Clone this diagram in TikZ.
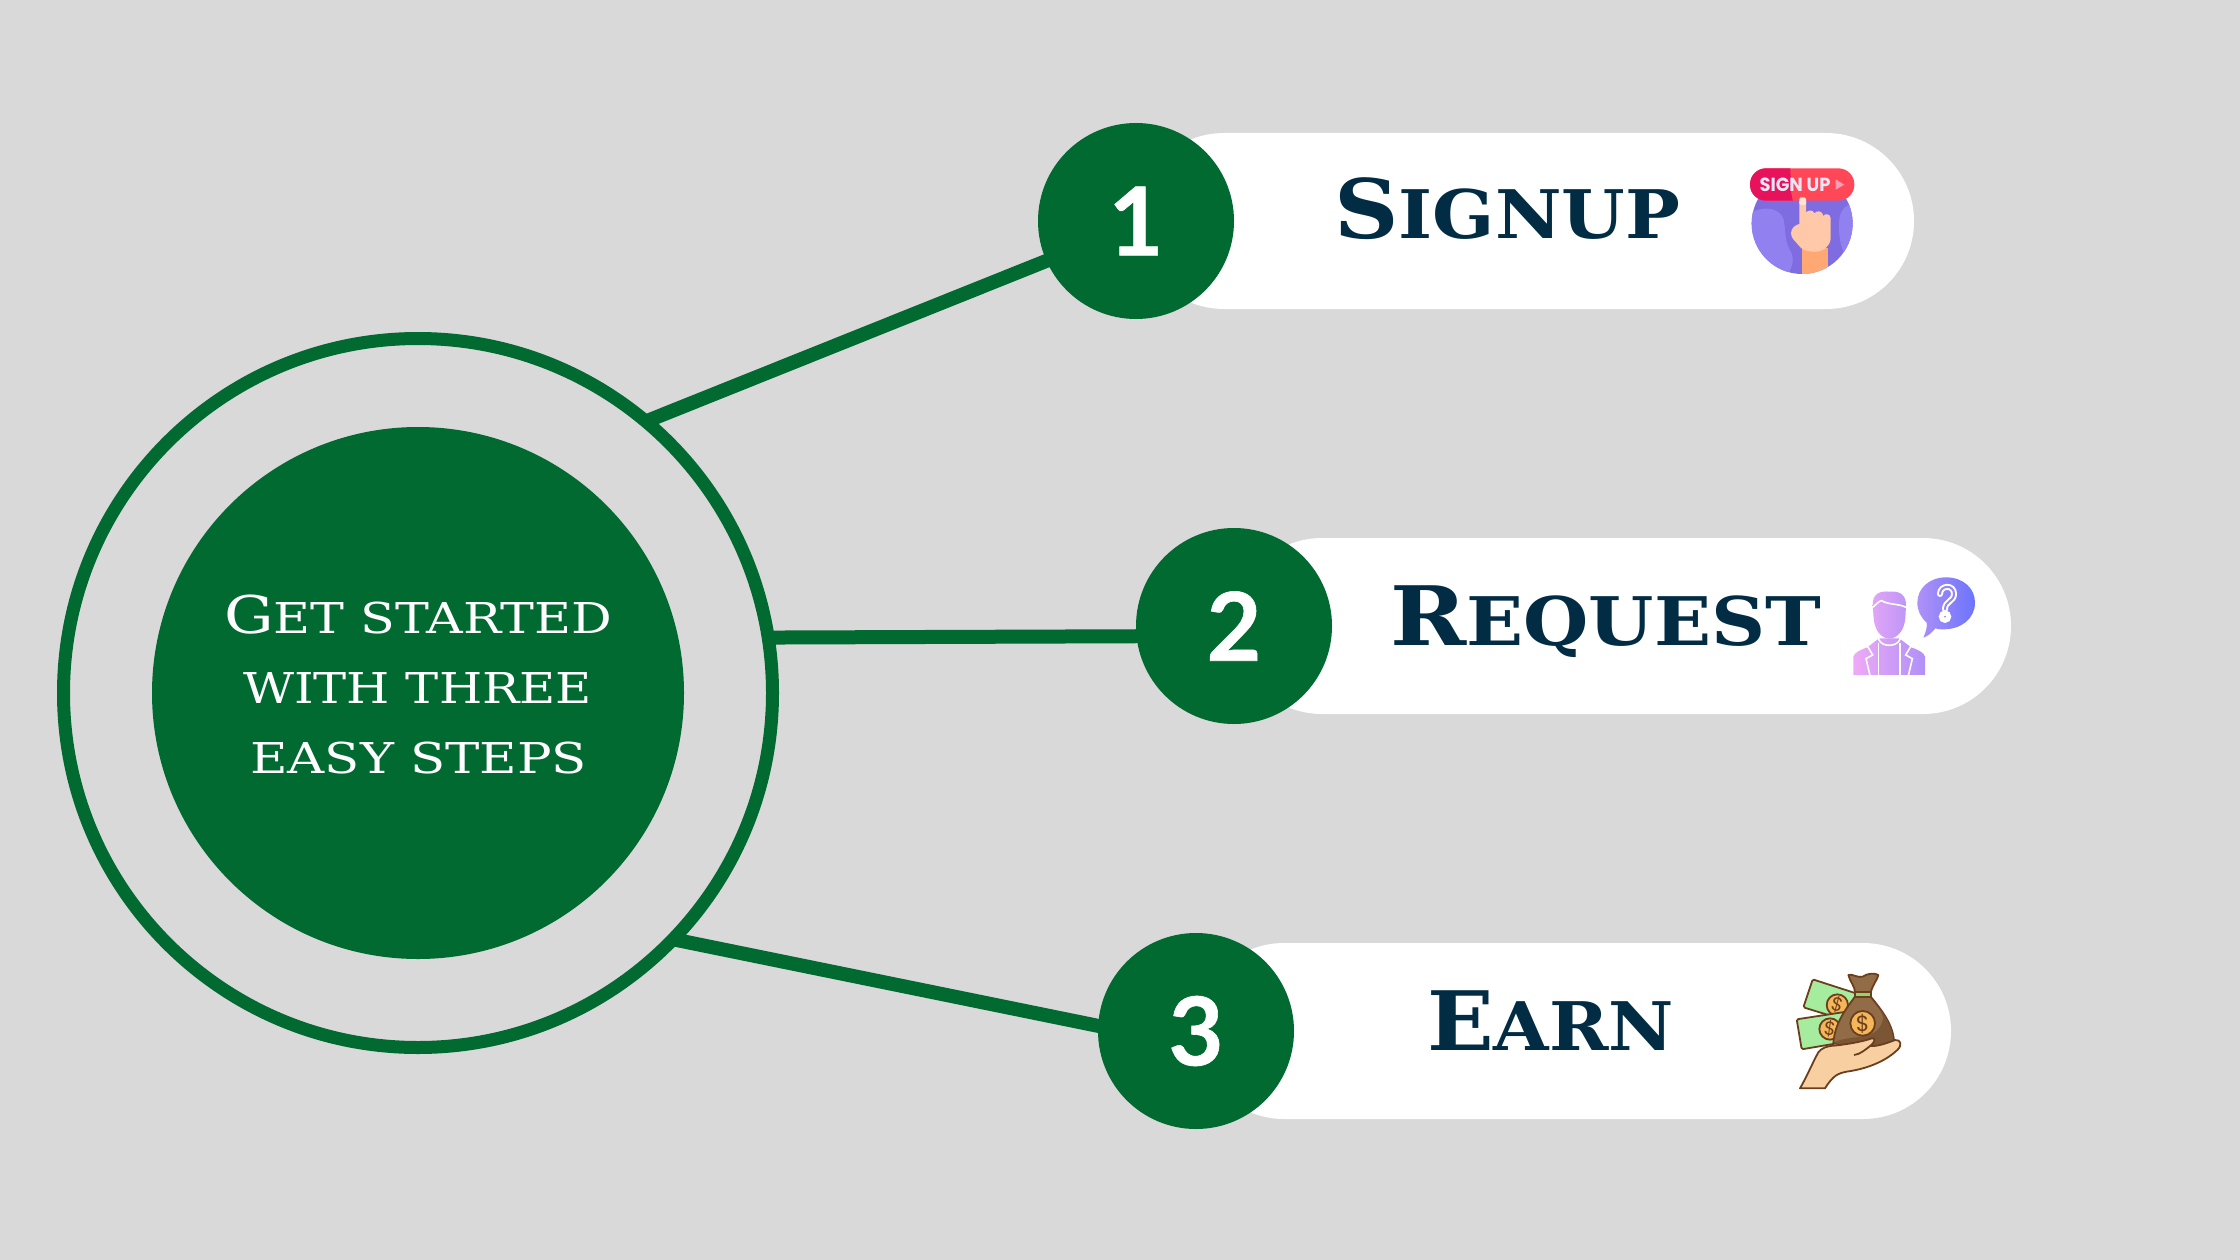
\documentclass[tikz,border=0pt]{standalone}
\usepackage{fontspec}
\usepackage{graphicx}
\setmainfont{DejaVu Serif}
\newfontfamily\digitfont[BoldFeatures={FakeBold=0.6}]{Lato}
\newfontfamily\iconfont{Poppins}
\definecolor{bgc}{HTML}{D9D9D9}
\definecolor{grn}{HTML}{006A31}
\definecolor{navy}{HTML}{022C43}
\definecolor{outl}{HTML}{6B3E1E}
\newcommand{\labeltxt}[3]{\resizebox{#1pt}{\height}{\bfseries\fontsize{82}{82}\selectfont #2\fontsize{67}{67}\selectfont #3}}
\newcommand{\midtxt}[3]{\resizebox{#1pt}{\height}{\fontsize{52}{52}\selectfont #2\fontsize{42.5}{42.5}\selectfont #3}}
\newcommand{\numtxt}[1]{\raisebox{-2pt}{#1}}
\tikzset{
  ringnode/.style={circle,draw=grn,line width=13pt,minimum size=709pt,inner sep=0pt,outer sep=0pt},
  discnode/.style={circle,fill=grn,minimum size=532pt,inner sep=0pt,outer sep=0pt},
  numnode/.style={circle,fill=grn,minimum size=196pt,inner sep=0pt,outer sep=0pt,text=white,font=\digitfont\bfseries\fontsize{95}{95}\selectfont},
  link/.style={draw=grn,line width=14pt,shorten >=-6pt,shorten <=-3pt},
  pill/.style={fill=white,rounded corners=88pt},
  lab/.style={anchor=base west,inner sep=0pt,text=navy},
  midlab/.style={anchor=base west,inner sep=0pt,text=white},
  ol/.style={draw=outl,line width=1.8pt,line join=round},
  dollar/.style={inner sep=0pt,text=outl,font=\iconfont\fontsize{19}{19}\selectfont},
  coin/.style={fill={rgb,255:red,245;green,182;blue,90},draw=outl,line width=1.8pt}
}
\begin{document}
\begin{tikzpicture}[x=1pt,y=-1pt]
\useasboundingbox (0,0) rectangle (2240,1260);
\fill[bgc] (0,0) rectangle (2240,1260);
% pills
\path[pill] (1136,133) rectangle (1914,309);
\path[pill] (1234,538) rectangle (2011,714);
\path[pill] (1196,943) rectangle (1951,1119);
% main nodes
\node[ringnode] (ring) at (418,693) {};
\node[discnode] (disc) at (418,693) {};
\node[numnode] (c1) at (1136,221) {\numtxt{1}};
\node[numnode] (c2) at (1234,626) {\numtxt{2}};
\node[numnode] (c3) at (1196,1031) {\numtxt{3}};
\draw[link] (ring.50.6) -- (c1.204.5);
\draw[link] (ring.9.09) -- (c2.186.45);
\draw[link] (ring.-44) -- (c3.177.5);
% labels
\node[lab] (l1) at (1334,238) {\labeltxt{346}{S}{IGNUP}};
\node[lab] (l2) at (1390,645) {\labeltxt{431}{R}{EQUEST}};
\node[lab] (l3) at (1427,1050) {\labeltxt{247}{E}{ARN}};
\node[midlab] (m1) at (224,633) {\midtxt{388}{G}{ET STARTED}};
\node[midlab] (m2) at (243,703) {\midtxt{349}{}{WITH THREE}};
\node[midlab] (m3) at (250,773) {\midtxt{337}{}{EASY STEPS}};
% ---- icon 1
\begin{scope}[shift={(1720,150)},x=.3333pt,y=-.3333pt]
  \fill[fill={rgb,255:red,127;green,108;blue,224}] (246.5,220.5) circle (151.5);
  \begin{scope}
    \clip (246.5,220.5) circle (151.5);
    \fill[fill={rgb,255:red,145;green,128;blue,240}] (90,190) .. controls (120,172) and (170,165) .. (190,205) .. controls (200,250) and (190,270) .. (215,310) .. controls (225,340) and (210,360) .. (200,380) -- (90,380) -- cycle;
    \fill[fill={rgb,255:red,145;green,128;blue,240}] (400,160) .. controls (365,170) and (355,190) .. (357,240) .. controls (358,270) and (365,295) .. (375,315) -- (400,315) -- cycle;
    \fill[fill={rgb,255:red,255;green,168;blue,115}] (245,295) -- (323,295) -- (323,380) -- (245,380) -- cycle;
  \end{scope}
  \fill[fill={rgb,255:red,255;green,200;blue,168}] (238,150) -- (258,150) -- (258,188) .. controls (262,180) and (280,178) .. (283,190) .. controls (290,180) and (308,182) .. (310,198) .. controls (315,188) and (332,192) .. (332,205) -- (332,265) .. controls (330,290) and (310,305) .. (285,305) .. controls (260,305) and (245,300) .. (235,285) .. controls (225,272) and (213,265) .. (213,250) .. controls (213,235) and (225,225) .. (238,222) -- cycle;
  \fill[fill={rgb,255:red,255;green,71;blue,87},rounded corners=16pt] (90,55) rectangle (403,152);
  \begin{scope}
    \clip[rounded corners=16pt] (90,55) rectangle (403,152);
    \fill[fill={rgb,255:red,232;green,18;blue,92}] (80,45) -- (213,45) .. controls (205,70) and (222,100) .. (213,125) -- (220,160) -- (80,160) -- cycle;
  \end{scope}
  \fill[fill={rgb,255:red,255;green,228;blue,210},rounded corners=1.5pt] (238,142) rectangle (258,165);
  \node[inner sep=0pt,text={rgb,255:red,235;green,230;blue,245},font=\iconfont\bfseries\fontsize{19}{19}\selectfont] (su) at (225,103) {\resizebox{71pt}{\height}{SIGN UP}};
  \fill[fill={rgb,255:red,255;green,155;blue,175}] (347,88) -- (373,104) -- (347,119) -- cycle;
\end{scope}
% ---- icon 2
\begin{scope}[shift={(1830,560)},x=.3333pt,y=-.3333pt]
  \path[left color={rgb,255:red,238;green,170;blue,246},right color={rgb,255:red,176;green,144;blue,248}] (70,345) -- (70,290) .. controls (72,278) and (95,268) .. (112,262) -- (147,235) -- (208,235) -- (243,262) .. controls (262,268) and (283,278) .. (285,290) -- (285,345) -- cycle;
  \path[left color={rgb,255:red,225;green,165;blue,246},right color={rgb,255:red,190;green,150;blue,248}] (128,135) .. controls (128,100) and (150,92) .. (180,95) .. controls (215,92) and (228,110) .. (228,135) -- (226,175) .. controls (222,215) and (200,235) .. (178,236) .. controls (155,235) and (135,215) .. (131,175) -- cycle;
  \draw[white,line width=1.6pt] (128,142) .. controls (140,132) and (148,122) .. (155,122) .. controls (175,135) and (205,130) .. (228,142);
  \draw[white,line width=1.6pt] (146,222) -- (146,238) .. controls (155,262) and (200,262) .. (210,238) -- (210,222);
  \draw[white,line width=1.6pt] (112,258) -- (128,285) -- (108,296) -- (120,347);
  \draw[white,line width=1.6pt] (243,258) -- (227,285) -- (247,296) -- (235,347);
  \draw[white,line width=1.6pt] (146,248) -- (146,347);
  \draw[white,line width=1.6pt] (210,248) -- (210,347);
  \path[left color={rgb,255:red,175;green,145;blue,248},right color={rgb,255:red,108;green,116;blue,251}] (348,52) .. controls (400,52) and (435,85) .. (435,128) .. controls (435,175) and (395,208) .. (340,208) .. controls (328,208) and (322,207) .. (316,205) .. controls (305,218) and (295,228) .. (280,233) .. controls (288,215) and (292,200) .. (290,188) .. controls (272,172) and (262,152) .. (262,128) .. controls (262,85) and (298,52) .. (348,52) -- cycle;
  \draw[white,line width=6pt,line cap=round] (330,102) .. controls (330,75) and (372,72) .. (372,102) .. controls (372,125) and (345,122) .. (345,148);
  \draw[white,line width=5pt] (345,170) circle (11);
  \draw[draw={rgb,255:red,150;green,135;blue,249},line width=2pt,line cap=round] (330,102) .. controls (330,75) and (372,72) .. (372,102) .. controls (372,125) and (345,122) .. (345,148);
\end{scope}
% ---- icon 3
\begin{scope}[shift={(1780,960)},x=.3333pt,y=-.3333pt]
  \path[ol,fill={rgb,255:red,166;green,236;blue,158},rounded corners=1.5pt] (98,58) -- (228,100) -- (200,182) -- (70,142) -- cycle;
  \path[coin] (172,135) circle (32);
  \node[dollar,rotate=-15] (d1) at (172,135) {\$};
  \path[ol,fill={rgb,255:red,166;green,236;blue,158},rounded corners=1.5pt] (50,178) -- (200,155) -- (200,245) -- (65,268) -- cycle;
  \path[coin] (150,207) circle (32);
  \node[dollar,rotate=-8] (d2) at (150,207) {\$};
  \path[ol,fill={rgb,255:red,146;green,108;blue,70}] (225,110) .. controls (195,150) and (165,190) .. (160,248) .. controls (220,268) and (290,262) .. (342,245) .. controls (340,195) and (305,150) .. (272,110) -- cycle;
  \fill[fill={rgb,255:red,122;green,86;blue,52}] (162,248) .. controls (200,225) and (280,240) .. (300,200) .. controls (320,170) and (300,150) .. (290,135) .. controls (318,170) and (338,205) .. (340,244) .. controls (290,262) and (220,266) .. (162,248) -- cycle;
  \path[ol,fill={rgb,255:red,146;green,108;blue,70}] (205,45) .. controls (215,40) and (235,55) .. (248,50) .. controls (260,40) and (285,38) .. (295,45) .. controls (292,60) and (280,70) .. (272,97) -- (225,97) .. controls (225,80) and (210,65) .. (205,45) -- cycle;
  \path[ol,fill={rgb,255:red,140;green,214;blue,106}] (225,97) -- (272,97) -- (272,112) -- (225,112) -- cycle;
  \path[coin] (248,190) circle (37);
  \node[dollar,font=\iconfont\fontsize{22}{22}\selectfont] (d3) at (248,190) {\$};
  \path[ol,fill={rgb,255:red,247;green,207;blue,160}] (60,385) .. controls (80,350) and (95,315) .. (108,290) .. controls (115,270) and (130,262) .. (150,258) .. controls (190,255) and (250,245) .. (275,235) .. controls (290,232) and (283,250) .. (270,258) .. controls (290,260) and (320,250) .. (345,240) .. controls (362,238) and (368,255) .. (352,270) .. controls (320,300) and (270,325) .. (200,335) .. controls (175,340) and (160,345) .. (135,385) -- cycle;
  \draw[ol] (270,258) .. controls (255,270) and (240,283) .. (222,285);
\end{scope}
\end{tikzpicture}
\end{document}
